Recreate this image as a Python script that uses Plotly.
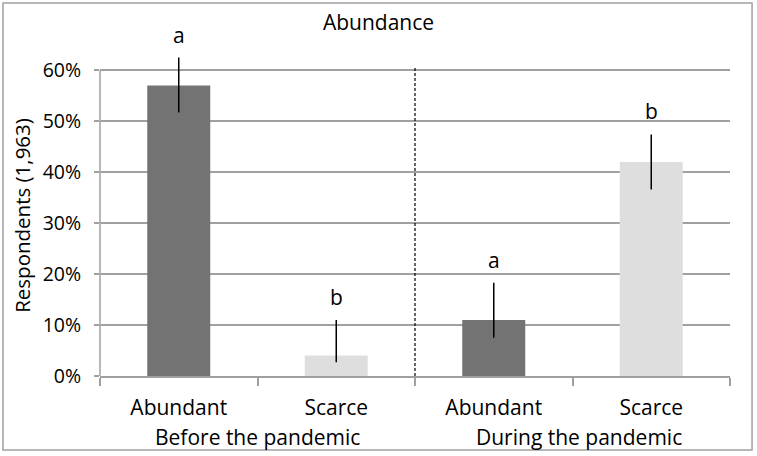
import plotly.graph_objects as go

# ---- data ----
groups = ["Before the pandemic", "Before the pandemic", "During the pandemic", "During the pandemic"]
categories = ["Abundant", "Scarce", "Abundant", "Scarce"]
values = [0.57, 0.04, 0.11, 0.42]
err_plus = [0.055, 0.07, 0.073, 0.054]
err_minus = [0.053, 0.013, 0.035, 0.054]
letters = ["a", "b", "a", "b"]
tick_vals = [0, 0.1, 0.2, 0.3, 0.4, 0.5, 0.6]
tick_text = ["0%", "10%", "20%", "30%", "40%", "50%", "60%"]

YTOP = 0.6      # last gridline
YRANGE = 0.63   # axis range (room for the top error bar)
ids = [g + "|" + c for g, c in zip(groups, categories)]
colors = ["#737373" if c == "Abundant" else "#dedede" for c in categories]
FONT = "Open Sans"
GRID = "#a0a0a0"

fig = go.Figure()
fig.add_trace(go.Bar(
    x=ids, y=values, width=0.4,
    marker=dict(color=colors, line=dict(width=0)),
    error_y=dict(type="data", symmetric=False, array=err_plus, arrayminus=err_minus,
                 color="black", thickness=1.5, width=0),
    cliponaxis=False,
    showlegend=False, hoverinfo="skip",
))

annotations = []
for xi, v, ep, t in zip(ids, values, err_plus, letters):
    annotations.append(dict(x=xi, y=v + ep, text=t, showarrow=False,
                            xref="x", yref="y", xanchor="center", yanchor="bottom", yshift=7,
                            font=dict(family=FONT, size=21, color="black")))

# group labels
uniq_groups = []
for g in groups:
    if g not in uniq_groups:
        uniq_groups.append(g)
for gi, g in enumerate(uniq_groups):
    annotations.append(dict(x=(gi * 2 + 1) / 4.0 + 0.01 * gi, y=0, xref="paper", yref="paper",
                            xanchor="center", yanchor="middle", yshift=-61,
                            text=g, showarrow=False, font=dict(family=FONT, size=21, color="black")))

shapes = [
    # y axis line up to the last gridline
    dict(type="line", xref="paper", yref="y", x0=0, x1=0, y0=0, y1=YTOP,
         line=dict(color=GRID, width=1.5)),
    # dashed separator between the two periods
    dict(type="line", xref="x", yref="y", x0=1.5, x1=1.5, y0=0, y1=YTOP * 1.013,
         line=dict(color="black", width=1.2, dash="3px,2px")),
    # outer chart border
    dict(type="rect", xref="paper", yref="paper", x0=-0.154, x1=1.035, y0=-0.2305, y1=1.162,
         line=dict(color=GRID, width=1.5), layer="below"),
]

fig.update_layout(
    width=757, height=456,
    margin=dict(l=100, r=27, t=55, b=80),
    paper_bgcolor="white", plot_bgcolor="white",
    title=dict(text="Abundance", x=0.5, xref="container", xanchor="center",
               y=1 - 23 / 456, yref="container", yanchor="middle",
               font=dict(family=FONT, size=21, color="black")),
    font=dict(family=FONT, size=21, color="black"),
    annotations=annotations,
    shapes=shapes,
)
fig.update_xaxes(
    type="category", range=[-0.5, 3.5],
    tickmode="array", tickvals=ids, ticktext=categories,
    tickson="boundaries", ticks="outside", ticklen=8, tickcolor=GRID, tickwidth=1.5,
    ticklabelstandoff=12,
    showline=True, linecolor=GRID, linewidth=1.5, showgrid=False,
    tickfont=dict(family=FONT, size=21, color="black"),
)
fig.update_yaxes(
    range=[0, YRANGE], tickvals=tick_vals, ticktext=tick_text,
    showgrid=True, gridcolor=GRID, gridwidth=1.5,
    ticks="outside", ticklen=5, tickcolor=GRID, tickwidth=1.5,
    ticklabelstandoff=9,
    showline=False, zeroline=False,
    tickfont=dict(family=FONT, size=19.5, color="black"),
    title=dict(text="Respondents (1,963)", font=dict(family=FONT, size=20.5, color="black"), standoff=6),
)

fig.write_html("out.html")
